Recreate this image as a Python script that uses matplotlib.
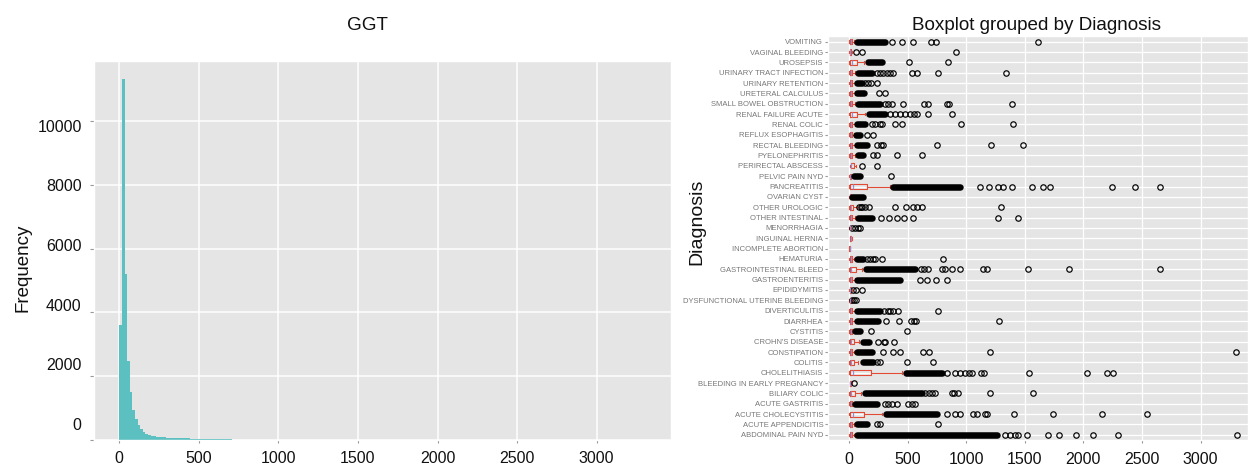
import numpy as np
import matplotlib
matplotlib.use("Agg")
import matplotlib.pyplot as plt

plt.style.use("ggplot")
plt.rcParams["font.family"] = ["Liberation Sans", "DejaVu Sans"]

# ---------------- GGT histogram (counts per bin, bins start at 0) ----------------
bin_width = 16.4
ggt_counts = [3590, 11340, 5200, 2480, 1480, 930, 640, 450, 340, 240,
              175, 140, 115, 100, 90, 80, 72, 65, 60, 55,
              50, 45, 42, 40, 37, 34, 32, 30, 28, 26,
              24, 22, 20, 18, 16, 6, 10, 4, 10, 5,
              5, 10, 6]
hist_xticks = [0, 500, 1000, 1500, 2000, 2500, 3000]
hist_yticks = [0, 2000, 4000, 6000, 8000, 10000]

# ---------------- GGT by diagnosis (box statistics) ----------------
diagnoses = [
    "ABDOMINAL PAIN NYD", "ACUTE APPENDICITIS", "ACUTE CHOLECYSTITIS",
    "ACUTE GASTRITIS", "BILIARY COLIC", "BLEEDING IN EARLY PREGNANCY",
    "CHOLELITHIASIS", "COLITIS", "CONSTIPATION", "CROHN'S DISEASE",
    "CYSTITIS", "DIARRHEA", "DIVERTICULITIS", "DYSFUNCTIONAL UTERINE BLEEDING",
    "EPIDIDYMITIS", "GASTROENTERITIS", "GASTROINTESTINAL BLEED", "HEMATURIA",
    "INCOMPLETE ABORTION", "INGUINAL HERNIA", "MENORRHAGIA", "OTHER INTESTINAL",
    "OTHER UROLOGIC", "OVARIAN CYST", "PANCREATITIS", "PELVIC PAIN NYD",
    "PERIRECTAL ABSCESS", "PYELONEPHRITIS", "RECTAL BLEEDING",
    "REFLUX ESOPHAGITIS", "RENAL COLIC", "RENAL FAILURE ACUTE",
    "SMALL BOWEL OBSTRUCTION", "URETERAL CALCULUS", "URINARY RETENTION",
    "URINARY TRACT INFECTION", "UROSEPSIS", "VAGINAL BLEEDING", "VOMITING",
]
whislo = [3, 3, 3, 3, 3, 5, 2, 3, 3, 3, 3, 3, 3, 3, 3, 3, 3, 3, 3, 5,
          3, 3, 3, 3, 2, 3, 8, 3, 3, 3, 3, 3, 3, 3, 3, 3, 2, 3, 3]
q1 = [10, 8, 9, 8, 6, 9, 11, 5, 8, 6, 8, 8, 9, 6, 8, 9, 8, 8, 4, 10,
      5, 8, 5, 6, 9, 6, 14, 8, 8, 8, 9, 9, 9, 8, 8, 8, 8, 5, 10]
med = [17, 15, 31, 14, 16, 12, 31, 14, 15, 14, 14, 15, 17, 10, 12, 17, 20, 15, 5, 15,
       7, 16, 14, 10, 31, 11, 20, 15, 15, 14, 16, 25, 17, 15, 15, 16, 22, 9, 17]
q3 = [26, 24, 125, 22, 48, 18, 190, 45, 25, 45, 24, 27, 30, 15, 18, 30, 57, 25, 7, 20,
      10, 30, 37, 15, 156, 17, 40, 28, 28, 24, 27, 65, 30, 26, 26, 30, 65, 15, 26]
whishi = [45, 45, 279, 40, 100, 25, 449, 75, 45, 85, 40, 50, 55, 25, 26, 55, 115, 45, 9, 30,
          15, 55, 65, 24, 350, 30, 60, 50, 50, 45, 48, 137, 55, 48, 48, 55, 131, 30, 45]

# individual outliers
outliers = [
    [1331, 1374, 1416, 1445, 1522, 1701, 1795, 1937, 2085, 2298, 3308],
    [236, 264, 757],
    [833, 904, 947, 1055, 1089, 1160, 1175, 1411, 1743, 2156, 2540],
    [307, 336, 364, 407, 506, 535, 563],
    [650, 680, 705, 735, 876, 900, 933, 1203, 1573],
    [45],
    [833, 905, 945, 990, 1020, 1050, 1130, 1150, 1539, 2034, 2199, 2250],
    [236, 264, 498, 714],
    [287, 373, 435, 634, 685, 1203, 3299],
    [250, 300, 310, 387],
    [188, 492],
    [316, 429, 526, 555, 572, 1280],
    [300, 330, 350, 378, 421, 762],
    [30, 45, 60],
    [37, 60, 114],
    [606, 663, 742, 833],
    [611, 640, 677, 791, 819, 876, 947, 1146, 1175, 1530, 1877, 2654],
    [150, 180, 205, 225, 279, 805],
    [],
    [],
    [30, 52, 80, 95],
    [270, 341, 407, 469, 549, 1269, 1439],
    [85, 100, 115, 137, 171, 392, 486, 549, 580, 620, 1297],
    [],
    [1118, 1197, 1274, 1317, 1388, 1559, 1658, 1715, 2241, 2440, 2654],
    [358],
    [108, 236],
    [202, 236, 407, 620],
    [236, 270, 293, 754, 1212, 1482],
    [151, 208],
    [193, 222, 264, 279, 392, 449, 956, 1396],
    [350, 392, 435, 478, 520, 555, 577, 677, 876],
    [307, 336, 364, 458, 643, 671, 833, 856, 1388],
    [259, 307],
    [137, 165, 185, 242],
    [236, 264, 293, 321, 350, 378, 535, 577, 757, 1337],
    [512, 847],
    [60, 115, 910],
    [364, 449, 549, 700, 742, 1610],
]

# ranges where outliers overlap into a continuous run (low, high); None if absent
outlier_runs = [
    (65, 1260), (65, 151), (316, 748), (51, 236), (137, 620), None,
    (486, 790), (117, 208), (65, 193), (122, 173), (51, 94), (71, 250),
    (71, 265), None, None, (65, 435), (145, 563), (65, 122), None, None,
    None, (80, 193), None, (28, 117), (378, 947), (43, 94), None,
    (74, 117), (71, 151), (60, 94), (65, 137), (173, 307), (74, 265),
    (65, 128), (65, 108), (74, 193), (165, 279), None, (65, 307),
]
box_xticks = [0, 500, 1000, 1500, 2000, 2500, 3000]

# ---------------- figure ----------------
W, H = 1248, 465
fig = plt.figure(figsize=(W / 100, H / 100), dpi=100)

teal = "#5cbfc0"
box_color = "#E24A33"
median_color = "#988ED5"

# --- left: histogram ---
ax1 = fig.add_axes([94 / W, (H - 439.5) / H, (671 - 94) / W, (439.5 - 61) / H])
edges = np.arange(len(ggt_counts) + 1) * bin_width
ax1.hist(edges[:-1], bins=edges, weights=ggt_counts, color=teal, lw=0)
ax1.set_xlim(-159, 3467)
ax1.set_ylim(0, 11900)
ax1.set_xticks(hist_xticks)
ax1.set_xticklabels([str(t) for t in hist_xticks])
ax1.set_yticks(hist_yticks)
ax1.set_yticklabels([])
ax1.tick_params(axis="x", labelsize=11.5, labelcolor="#111111", length=2.5,
                pad=6, color="#999999")
ax1.tick_params(axis="y", length=3, color="#999999")
ax1.grid(True, color="white", lw=1.1)
for v in hist_yticks:
    ax1.text(-0.0213, 0.0365 + v / 10000 * 0.7885, str(v), transform=ax1.transAxes,
             ha="right", va="center", fontsize=11.5, color="#111111")

# --- right: box plot ---
ax2 = fig.add_axes([828 / W, (H - 440) / H, (W - 828) / W, (440 - 36.5) / H])
positions = np.arange(1, len(diagnoses) + 1)
stats = [dict(label=d, whislo=a, q1=b, med=c, q3=e, whishi=f, fliers=fl)
         for d, a, b, c, e, f, fl in zip(diagnoses, whislo, q1, med, q3, whishi, outliers)]
ax2.bxp(stats, positions=positions, orientation="horizontal", widths=0.5,
        boxprops=dict(color=box_color, lw=0.8),
        whiskerprops=dict(color=box_color, lw=0.8),
        capprops=dict(color=box_color, lw=0.8),
        medianprops=dict(color=median_color, lw=0.9),
        flierprops=dict(marker="o", markerfacecolor="none", markeredgecolor="black",
                        markersize=3.9, markeredgewidth=0.85))
run_pos = [p for p, r in zip(positions, outlier_runs) if r is not None]
run_lo = [r[0] for r in outlier_runs if r is not None]
run_hi = [r[1] for r in outlier_runs if r is not None]
ax2.hlines(run_pos, run_lo, run_hi, colors="black", lw=4.7, capstyle="round", zorder=3)

ax2.set_xlim(-179, 3404)
ax2.set_ylim(0.5, len(diagnoses) + 0.5)
ax2.set_xticks(box_xticks)
ax2.set_xticklabels([str(t) for t in box_xticks])
ax2.set_yticks(positions)
ax2.set_yticklabels(diagnoses)
ax2.tick_params(axis="x", labelsize=11.5, labelcolor="#111111", length=2.5,
                pad=6, color="#999999")
ax2.tick_params(axis="y", labelsize=5.5, labelcolor="#777777", length=2,
                pad=1.5, color="#999999")
ax2.grid(True, color="white", lw=0.9)

# --- titles and axis labels ---
fig.text(367 / W, 1 - 29.5 / H, "GGT", ha="center", va="baseline",
         fontsize=13.6, color="#111111")
fig.text(1037 / W, 1 - 29.5 / H, "Boxplot grouped by Diagnosis", ha="center",
         va="baseline", fontsize=13.6, color="#111111")
fig.text(23.3 / W, 1 - 268.3 / H, "Frequency", rotation=90, ha="center",
         va="center", fontsize=13.5, color="#111111")
fig.text(697 / W, 1 - 221.5 / H, "Diagnosis", rotation=90, ha="center",
         va="center", fontsize=14, color="#111111")

fig.savefig("out.png", dpi=100)
